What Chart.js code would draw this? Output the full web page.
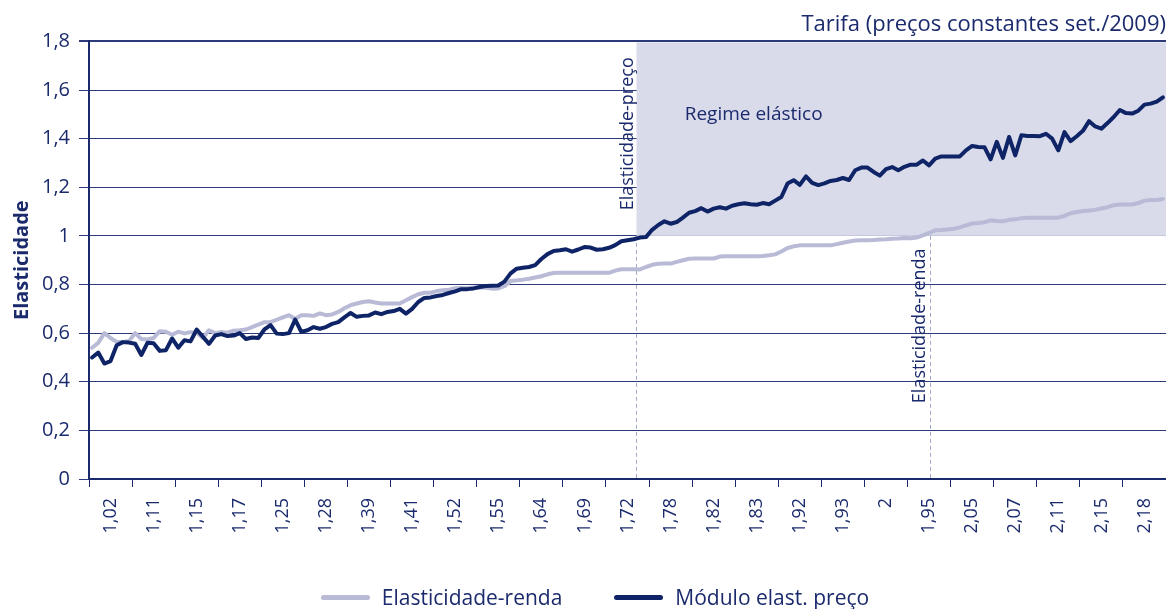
<!DOCTYPE html>
<html lang="pt-BR">
<head>
<meta charset="utf-8">
<title>Elasticidade-renda e módulo da elasticidade-preço</title>
<script src="https://cdn.jsdelivr.net/npm/chart.js@4.4.1/dist/chart.umd.min.js"></script>
<style>
  html, body { margin: 0; padding: 0; background: #fff; }
  #quadro { position: relative; width: 1166px; height: 609px; }
  #grafico { display: block; position: absolute; left: 0; top: 0; }
  #legenda {
    position: absolute; left: 12px; top: 584px; width: 1166px;
    display: flex; justify-content: center; gap: 52px;
    font: 21px 'Open Sans', sans-serif; line-height: 26px; color: #1a2a6c;
  }
  #legenda .item { display: flex; align-items: center; }
  #legenda .amostra { width: 49px; height: 5px; border-radius: 3px; margin-right: 12px; }
</style>
</head>
<body>
<div id="quadro">
  <canvas id="grafico" width="1166" height="609"></canvas>
  <div id="legenda"></div>
</div>
<script>
// rótulos de tarifa exibidos no eixo (um a cada grupo de pontos)
const rotulosTarifa = ['1,02', '1,11', '1,15', '1,17', '1,25', '1,28', '1,39', '1,41', '1,52', '1,55',
    '1,64', '1,69', '1,72', '1,78', '1,82', '1,83', '1,92', '1,93', '2', '1,95',
    '2,05', '2,07', '2,11', '2,15', '2,18'];
const pontosPorRotulo = 7;

const elasticidadeRenda = [
    0.54, 0.56, 0.60, 0.58, 0.564, 0.564, 0.568, 0.60, 0.576, 0.574,
    0.58, 0.608, 0.606, 0.593, 0.606, 0.599, 0.604, 0.602, 0.58, 0.612,
    0.60, 0.605, 0.602, 0.61, 0.612, 0.615, 0.625, 0.635, 0.645, 0.645,
    0.655, 0.665, 0.674, 0.658, 0.674, 0.674, 0.671, 0.681, 0.674, 0.677,
    0.687, 0.702, 0.715, 0.722, 0.728, 0.731, 0.726, 0.722, 0.722, 0.722,
    0.722, 0.735, 0.748, 0.76, 0.766, 0.766, 0.773, 0.776, 0.779, 0.785,
    0.786, 0.786, 0.788, 0.789, 0.787, 0.783, 0.784, 0.793, 0.814, 0.817,
    0.82, 0.824, 0.829, 0.834, 0.842, 0.847, 0.848, 0.848, 0.848, 0.848,
    0.848, 0.848, 0.848, 0.848, 0.848, 0.857, 0.863, 0.863, 0.863, 0.862,
    0.872, 0.881, 0.885, 0.886, 0.886, 0.893, 0.90, 0.906, 0.907, 0.907,
    0.907, 0.907, 0.915, 0.916, 0.916, 0.916, 0.916, 0.916, 0.916, 0.917,
    0.92, 0.924, 0.936, 0.95, 0.957, 0.961, 0.961, 0.961, 0.961, 0.961,
    0.961, 0.966, 0.972, 0.977, 0.981, 0.982, 0.982, 0.983, 0.985, 0.986,
    0.988, 0.989, 0.991, 0.99, 0.993, 1.002, 1.012, 1.023, 1.024, 1.026,
    1.029, 1.035, 1.043, 1.051, 1.053, 1.056, 1.064, 1.061, 1.06, 1.066,
    1.068, 1.073, 1.075, 1.075, 1.075, 1.075, 1.075, 1.075, 1.082, 1.093,
    1.098, 1.102, 1.104, 1.107, 1.113, 1.118, 1.126, 1.129, 1.129, 1.129,
    1.135, 1.145, 1.148, 1.148, 1.152
];

const moduloElastPreco = [
    0.50, 0.52, 0.475, 0.485, 0.55, 0.563, 0.561, 0.556, 0.51, 0.56,
    0.558, 0.527, 0.53, 0.578, 0.54, 0.571, 0.566, 0.615, 0.585, 0.556,
    0.59, 0.596, 0.588, 0.59, 0.60, 0.576, 0.582, 0.58, 0.615, 0.633,
    0.598, 0.596, 0.60, 0.656, 0.605, 0.612, 0.625, 0.618, 0.625, 0.638,
    0.645, 0.665, 0.683, 0.667, 0.671, 0.673, 0.685, 0.678, 0.687, 0.691,
    0.70, 0.68, 0.70, 0.728, 0.745, 0.747, 0.753, 0.757, 0.765, 0.772,
    0.781, 0.781, 0.784, 0.79, 0.794, 0.795, 0.796, 0.812, 0.846, 0.865,
    0.869, 0.872, 0.88, 0.905, 0.925, 0.938, 0.941, 0.945, 0.935, 0.944,
    0.954, 0.952, 0.943, 0.945, 0.951, 0.962, 0.978, 0.982, 0.986, 0.993,
    0.995, 1.025, 1.045, 1.06, 1.05, 1.057, 1.075, 1.095, 1.102, 1.114,
    1.10, 1.112, 1.118, 1.112, 1.124, 1.13, 1.134, 1.13, 1.128, 1.135,
    1.13, 1.145, 1.16, 1.215, 1.229, 1.21, 1.245, 1.218, 1.209, 1.216,
    1.226, 1.23, 1.238, 1.23, 1.27, 1.281, 1.281, 1.263, 1.248, 1.275,
    1.283, 1.27, 1.284, 1.293, 1.293, 1.31, 1.29, 1.318, 1.327, 1.327,
    1.327, 1.327, 1.352, 1.37, 1.366, 1.365, 1.315, 1.387, 1.321, 1.407,
    1.331, 1.414, 1.411, 1.411, 1.41, 1.42, 1.40, 1.352, 1.427, 1.39,
    1.41, 1.432, 1.472, 1.45, 1.441, 1.464, 1.489, 1.518, 1.505, 1.503,
    1.515, 1.54, 1.544, 1.552, 1.57
];

const categorias = moduloElastPreco.map((_, i) => i);

// posições (em pontos do eixo) onde cada série cruza a elasticidade unitária
const limitePreco = 88.4;
const limiteRenda = 136.2;

const azul = '#1a2a6c';
const azulEscuro = '#0f2467';
const lilas = '#b8bad6';

Chart.defaults.font.family = "'Open Sans', sans-serif";
Chart.defaults.color = azul;

const formataY = v => String(Math.round(v * 10) / 10).replace('.', ',');

// o eixo x ocupa toda a largura, sem folga para os rótulos
const semFolga = s => { s.paddingLeft = 0; s.paddingRight = 0; };

// faixa do regime elástico, linhas tracejadas e textos
const anotacoes = {
    id: 'anotacoes',
    beforeDatasetsDraw(chart) {
        const { ctx, chartArea, scales: { x, y } } = chart;
        const xPreco = Math.round(x.getPixelForValue(limitePreco)) + 0.5;
        const xRenda = Math.round(x.getPixelForValue(limiteRenda)) + 0.5;
        const yUm = y.getPixelForValue(1);
        const yTopo = y.getPixelForValue(1.8);
        const yZero = y.getPixelForValue(0);

        ctx.save();
        ctx.fillStyle = '#d9dbea';
        ctx.fillRect(xPreco, yTopo + 1, chartArea.right - xPreco, yUm - yTopo - 1);

        ctx.strokeStyle = '#a4a8cc';
        ctx.lineWidth = 1;
        ctx.setLineDash([4, 3]);
        [xPreco, xRenda].forEach(px => {
            ctx.beginPath();
            ctx.moveTo(px, yUm);
            ctx.lineTo(px, yZero);
            ctx.stroke();
        });
        ctx.restore();
    },
    afterDatasetsDraw(chart) {
        const { ctx, scales: { x, y } } = chart;
        const xPreco = x.getPixelForValue(limitePreco);
        const xRenda = x.getPixelForValue(limiteRenda);

        ctx.save();
        ctx.fillStyle = azul;
        ctx.font = "19px 'Open Sans', sans-serif";
        ctx.textAlign = 'center';
        ctx.textBaseline = 'alphabetic';
        ctx.fillText('Regime elástico', x.getPixelForValue(107.5), y.getPixelForValue(1.475));

        ctx.font = "18px 'Open Sans', sans-serif";
        ctx.textAlign = 'left';
        ctx.save();
        ctx.translate(xPreco - 3, y.getPixelForValue(1.105));
        ctx.rotate(-Math.PI / 2);
        ctx.fillText('Elasticidade-preço', 0, 0);
        ctx.restore();

        ctx.save();
        ctx.translate(xRenda - 5, y.getPixelForValue(0.312));
        ctx.rotate(-Math.PI / 2);
        ctx.fillText('Elasticidade-renda', 0, 0);
        ctx.restore();
        ctx.restore();
    }
};

const grafico = new Chart(document.getElementById('grafico'), {
    type: 'line',
    data: {
        labels: categorias,
        datasets: [
            {
                label: 'Elasticidade-renda',
                data: elasticidadeRenda,
                borderColor: lilas,
                backgroundColor: lilas,
                borderWidth: 4,
                borderCapStyle: 'round',
                borderJoinStyle: 'round',
                pointRadius: 0,
                tension: 0,
                order: 1
            },
            {
                label: 'Módulo elast. preço',
                data: moduloElastPreco,
                borderColor: azulEscuro,
                backgroundColor: azulEscuro,
                borderWidth: 4,
                borderCapStyle: 'round',
                borderJoinStyle: 'round',
                pointRadius: 0,
                tension: 0,
                order: 0
            }
        ]
    },
    options: {
        responsive: false,
        animation: false,
        devicePixelRatio: 1,
        layout: { padding: 0 },
        plugins: {
            tooltip: { enabled: false },
            legend: { display: false },
            title: {
                display: true,
                text: 'Tarifa (preços constantes set./2009)',
                align: 'end',
                color: azul,
                font: { size: 22, weight: 'normal' },
                padding: { top: 12, bottom: 3 }
            }
        },
        scales: {
            x: {
                type: 'linear',
                position: 'bottom',
                weight: 1,
                min: -0.5,
                max: categorias.length - 0.5,
                afterBuildTicks: s => {
                    s.ticks = rotulosTarifa.map((_, k) => ({ value: k * pontosPorRotulo + (pontosPorRotulo - 1) / 2 }));
                },
                afterFit: s => { s.height = 122; semFolga(s); },
                grid: { display: false, drawTicks: false },
                border: { display: false },
                ticks: {
                    autoSkip: false,
                    minRotation: 90,
                    maxRotation: 90,
                    padding: 11,
                    color: azul,
                    font: { size: 18 },
                    callback: (v, i) => rotulosTarifa[i]
                }
            },
            xt: {
                type: 'linear',
                position: 'bottom',
                weight: 0,
                min: -0.5,
                max: categorias.length - 0.5,
                afterBuildTicks: s => {
                    s.ticks = [...rotulosTarifa, ''].map((_, k) => ({ value: k * pontosPorRotulo - 0.5 }));
                },
                afterFit: s => { s.height = 8; semFolga(s); },
                ticks: { display: false },
                grid: { drawOnChartArea: false, drawTicks: true, tickLength: 8, color: azul, lineWidth: 1 },
                border: { display: true, color: azul, width: 2 }
            },
            y: {
                min: 0,
                max: 1.8,
                afterFit: s => { s.width = 89; },
                ticks: { stepSize: 0.2, padding: 9, color: azul, font: { size: 20 }, callback: formataY },
                grid: {
                    color: '#2c3a7a',
                    tickLength: 10,
                    lineWidth: c => (c.tick && c.tick.value > 1.79 ? 2 : 1)
                },
                border: { color: azul, width: 2 },
                title: {
                    display: true,
                    text: 'Elasticidade',
                    color: azul,
                    font: { size: 20, weight: 'bold' },
                    padding: { top: 10, bottom: 0 }
                }
            }
        }
    },
    plugins: [anotacoes]
});

// legenda em HTML, com as cores das séries
const legendaEl = document.getElementById('legenda');
grafico.data.datasets.forEach(ds => {
    const item = document.createElement('div');
    item.className = 'item';
    item.innerHTML = `<span class="amostra" style="background:${ds.borderColor}"></span><span>${ds.label}</span>`;
    legendaEl.appendChild(item);
});
</script>
</body>
</html>
